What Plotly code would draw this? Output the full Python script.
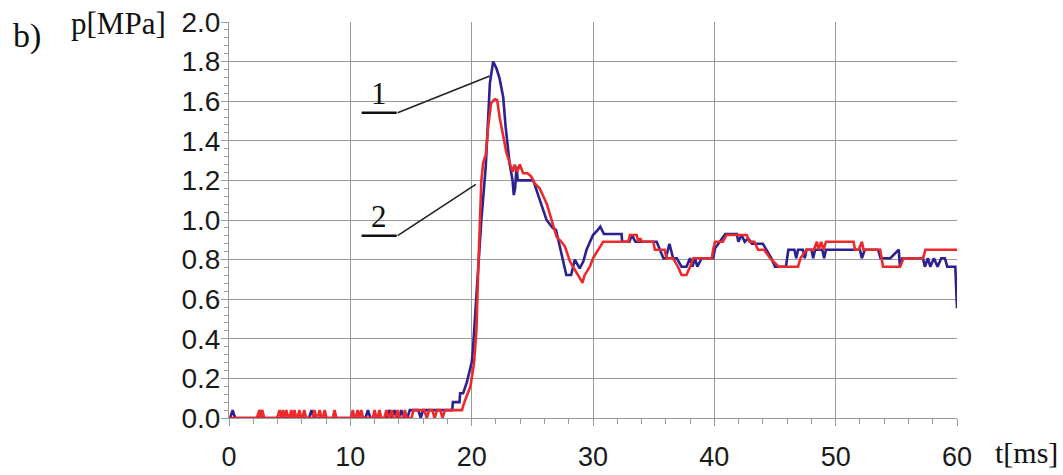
import plotly.graph_objects as go

# Curve 1 (blue) - time [ms], pressure [MPa]
t1 = [0, 0.1, 0.3, 0.5, 2.4, 2.6, 2.8, 6.6, 6.8, 7.0, 11.25, 11.45, 11.65, 13.0, 13.2, 13.4,
      13.45, 13.65, 13.85, 14.0, 14.2, 14.4, 14.7, 14.9, 15.6, 15.8, 16.0, 18.4, 18.45, 19.0,
      19.05, 19.3, 19.6, 20.0, 20.1, 20.43, 20.8, 21.16, 21.5, 21.77, 22.04, 22.3, 22.6, 22.8,
      23.0, 23.14, 23.37, 23.47, 23.58, 23.7, 23.8, 25.07, 25.35, 26.17, 26.7, 26.95, 27.27,
      27.68, 27.8, 28.2, 28.5, 28.9, 29.2, 29.47, 29.74, 30.0, 30.4, 30.6, 30.9, 32.36, 32.4,
      33.0, 33.2, 33.5, 35.25, 35.5, 35.8, 36.0, 36.3, 36.6, 36.9, 37.3, 37.7, 38.0, 38.2,
      38.4, 38.6, 38.96, 39.9, 40.06, 40.6, 40.9, 41.85, 41.98, 42.25, 42.5, 42.8, 43.1, 44.0,
      44.3, 44.7, 45.0, 45.9, 46.1, 46.6, 46.75, 46.9, 47.3, 47.45, 47.6, 48.0, 48.15, 48.3,
      48.9, 49.05, 49.2, 52.0, 52.16, 52.4, 53.5, 53.7, 54.5, 55.2, 55.3, 55.5, 57.2, 57.35,
      57.6, 57.8, 58.1, 58.4, 58.7, 59.0, 59.2, 59.86, 60.0]
p1 = [0, 0, 0.04, 0, 0, 0.04, 0, 0, 0.04, 0, 0, 0.04, 0, 0, 0.04, 0,
      0, 0.04, 0, 0, 0.04, 0, 0, 0.04, 0.04, 0, 0.04, 0.04, 0.08, 0.08,
      0.125, 0.125, 0.18, 0.28, 0.34, 0.655, 1.0, 1.27, 1.69, 1.80, 1.766, 1.715, 1.62, 1.47,
      1.34, 1.28, 1.20, 1.126, 1.16, 1.27, 1.20, 1.20, 1.15, 1.0, 0.958, 0.95, 0.865,
      0.764, 0.722, 0.722, 0.80, 0.756, 0.79, 0.85, 0.89, 0.924, 0.95, 0.966, 0.929, 0.929, 0.89,
      0.89, 0.924, 0.89, 0.89, 0.85, 0.807, 0.807, 0.88, 0.807, 0.807, 0.764, 0.764, 0.807, 0.764,
      0.807, 0.764, 0.807, 0.807, 0.857, 0.907, 0.929, 0.929, 0.89, 0.924, 0.89, 0.907, 0.88, 0.88,
      0.85, 0.807, 0.764, 0.764, 0.85, 0.85, 0.807, 0.85, 0.85, 0.807, 0.85, 0.85, 0.807, 0.85,
      0.85, 0.807, 0.85, 0.85, 0.807, 0.85, 0.85, 0.807, 0.807, 0.85, 0.764, 0.807, 0.807, 0.764,
      0.807, 0.764, 0.807, 0.764, 0.807, 0.807, 0.764, 0.764, 0.554]

# Curve 2 (red)
t2 = [0, 2.3, 2.5, 2.62, 2.74, 2.9, 3.97, 4.17, 4.3, 4.44, 4.58, 4.72, 4.9, 5.0, 5.13, 5.27,
      5.4, 5.55, 5.65, 5.8, 5.95, 6.05, 6.2, 6.35, 6.9, 7.05, 7.2, 7.3, 7.47, 7.62, 7.73, 7.88,
      8.05, 8.55, 8.7, 8.85, 10.05, 10.2, 10.35, 10.45, 10.6, 10.75, 10.9, 11.05, 11.85, 12.0,
      12.15, 12.25, 12.4, 12.55, 12.8, 12.97, 13.15, 13.25, 13.4, 13.55, 13.75, 13.9, 14.05,
      14.35, 14.5, 14.65, 15.05, 15.2, 16.1, 16.3, 16.5, 16.75, 16.95, 17.15, 17.4, 17.6, 17.8,
      19.2, 19.4, 19.9, 20.2, 20.4, 20.53, 20.67, 20.8, 20.94, 21.16, 21.36, 21.6, 21.9, 22.1,
      22.3, 22.6, 22.87, 23.14, 23.4, 23.55, 23.75, 23.97, 24.24, 24.6, 24.9, 25.2, 25.6, 26.2,
      26.6, 27.0, 27.4, 27.7, 28.1, 28.5, 28.9, 29.14, 29.3, 29.74, 30.0, 30.4, 30.84, 32.9,
      33.05, 33.6, 33.75, 33.9, 34.05, 34.97, 35.1, 35.9, 36.07, 36.6, 37.0, 37.3, 37.7, 38.0,
      38.27, 39.8, 39.9, 40.06, 40.7, 41.0, 42.67, 42.9, 43.3, 43.6, 44.1, 44.6, 45.3, 46.9,
      47.1, 47.6, 48.2, 48.45, 48.6, 48.8, 49.0, 49.2, 51.47, 51.6, 51.9, 52.16, 52.3, 53.67,
      53.9, 55.3, 55.6, 57.2, 57.4, 60.0]
p2 = [0, 0, 0.04, 0, 0.04, 0, 0, 0.04, 0, 0.04, 0, 0.04, 0, 0, 0.04, 0,
      0.04, 0, 0, 0.04, 0, 0, 0.04, 0, 0, 0.04, 0, 0, 0.04, 0, 0, 0.04,
      0, 0, 0.04, 0, 0, 0.04, 0, 0, 0.04, 0, 0.04, 0, 0, 0.04,
      0, 0, 0.04, 0, 0, 0.04, 0, 0, 0.04, 0, 0, 0.04, 0,
      0, 0.04, 0, 0, 0.04, 0.04, 0, 0.04, 0.04, 0, 0.04, 0.04, 0, 0.04,
      0.04, 0.08, 0.16, 0.28, 0.45, 0.73, 1.03, 1.20, 1.286, 1.33, 1.47, 1.59, 1.61, 1.606,
      1.52, 1.42, 1.337, 1.286, 1.244, 1.28, 1.244, 1.28, 1.236, 1.236, 1.22, 1.185, 1.16, 1.08,
      1.0, 0.915, 0.89, 0.865, 0.79, 0.747, 0.706, 0.683, 0.72, 0.764, 0.807, 0.85, 0.89, 0.89,
      0.924, 0.924, 0.89, 0.907, 0.89, 0.89, 0.85, 0.85, 0.807, 0.807, 0.764, 0.722, 0.722, 0.764,
      0.807, 0.807, 0.85, 0.89, 0.89, 0.924, 0.924, 0.89, 0.89, 0.85, 0.85, 0.807, 0.764, 0.764,
      0.807, 0.85, 0.85, 0.89, 0.85, 0.89, 0.85, 0.89, 0.89, 0.85, 0.85, 0.89, 0.85, 0.85,
      0.764, 0.764, 0.807, 0.807, 0.85, 0.85]

x_ticks = [0, 10, 20, 30, 40, 50, 60]
y_ticks = [0.0, 0.2, 0.4, 0.6, 0.8, 1.0, 1.2, 1.4, 1.6, 1.8, 2.0]

# callout labels: (text, label x, underline y, underline x0, x1, leader end x, leader end y)
callouts = [("1", 12.4, 1.542, 10.93, 13.82, 21.49, 1.727),
            ("2", 12.4, 0.921, 10.93, 13.82, 20.34, 1.18)]

BLUE = "#2b2190"
RED = "#ec2a2c"
GRID = "#9a9a9a"
SERIF = "Liberation Serif, Times New Roman, serif"
SANS = "Liberation Sans, Arial, sans-serif"

fig = go.Figure()
fig.add_trace(go.Scatter(x=t1, y=p1, mode="lines", line=dict(color=BLUE, width=2.6),
                         showlegend=False, hoverinfo="skip"))
fig.add_trace(go.Scatter(x=t2, y=p2, mode="lines", line=dict(color=RED, width=2.6),
                         showlegend=False, hoverinfo="skip"))

for txt, lx, uy, ux0, ux1, ex, ey in callouts:
    fig.add_shape(type="line", x0=ux0, x1=ux1, y0=uy, y1=uy, xref="x", yref="y",
                  line=dict(color="#111111", width=2.5))
    fig.add_shape(type="line", x0=ux1 + 0.08, y0=uy, x1=ex, y1=ey, xref="x", yref="y",
                  line=dict(color="#222222", width=1.6))
    fig.add_annotation(x=lx, y=uy, xref="x", yref="y", text=txt, showarrow=False,
                       yanchor="bottom", yshift=0, font=dict(family=SERIF, size=31, color="#111111"))

fig.add_annotation(x=-0.299, y=0.965, xref="paper", yref="paper", text="b)", showarrow=False,
                   xanchor="left", yanchor="middle", font=dict(family=SERIF, size=34, color="#111111"))
fig.add_annotation(x=-0.084, y=0.995, xref="paper", yref="paper", text="p[MPa]", showarrow=False,
                   xanchor="right", yanchor="middle", font=dict(family=SERIF, size=31, color="#111111"))
fig.add_annotation(x=1.05, y=-0.087, xref="paper", yref="paper", text="t[ms]", showarrow=False,
                   xanchor="left", yanchor="middle", font=dict(family=SERIF, size=30, color="#111111"))

fig.update_layout(
    width=1063, height=475, autosize=False,
    margin=dict(l=229, r=106, t=22, b=57, pad=0, autoexpand=False),
    paper_bgcolor="white", plot_bgcolor="white",
    showlegend=False,
)
fig.update_xaxes(range=[0, 60], tickvals=x_ticks, ticktext=[str(v) for v in x_ticks],
                 automargin=False,
                 showgrid=True, gridcolor=GRID, gridwidth=1, zeroline=False,
                 showline=True, linecolor=GRID, linewidth=1,
                 ticks="outside", ticklen=7, tickcolor=GRID, ticklabelstandoff=8,
                 minor=dict(dtick=2, ticks="outside", ticklen=5, tickcolor=GRID, showgrid=False),
                 tickfont=dict(family=SANS, size=27, color="#1a1a1a"))
fig.update_yaxes(range=[0, 2.0], tickvals=y_ticks, ticktext=[f"{v:.1f}" for v in y_ticks],
                 automargin=False,
                 showgrid=True, gridcolor=GRID, gridwidth=1, zeroline=False,
                 showline=True, linecolor=GRID, linewidth=1,
                 ticks="outside", ticklen=7, tickcolor=GRID, ticklabelstandoff=-5,
                 minor=dict(dtick=0.04, ticks="outside", ticklen=4, tickcolor=GRID, showgrid=False),
                 tickfont=dict(family=SANS, size=28, color="#1a1a1a"))

fig.write_html("out.html")
